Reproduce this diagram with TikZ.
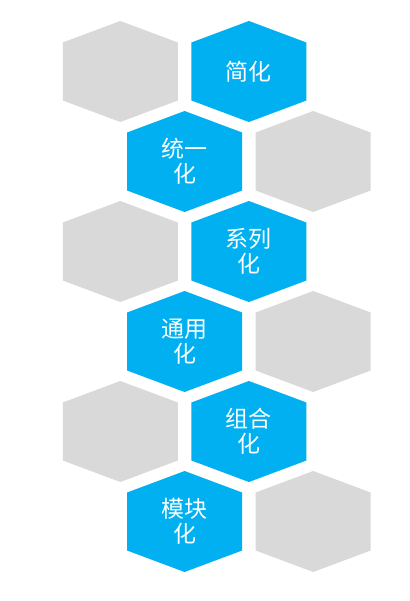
\documentclass[tikz,border=0pt]{standalone}
\usepackage{fontspec}
\newfontfamily\cjk{Noto Sans CJK SC}
\definecolor{hexblue}{HTML}{00B0F0}
\definecolor{hexgray}{HTML}{D9D9D9}
\tikzset{
  hexlabel/.style={text=white, align=center, inner sep=0pt,
    font=\cjk\fontsize{23pt}{25pt}\selectfont},
}
\newcommand{\hexat}[3]{% color, x, y
  \fill[#1] (#2,#3) ++(-57.5,-29) -- ++(57.5,-21.5) -- ++(57.5,21.5) -- ++(0,58) -- ++(-57.5,21.5) -- ++(-57.5,-21.5) -- cycle;}
\begin{document}
\begin{tikzpicture}[x=1pt,y=-1pt]
\useasboundingbox (0,0) rectangle (409,601);
\fill[white] (0,0) rectangle (409,601);
% row 1
\hexat{hexgray}{120.3}{71.5}
\hexat{hexblue}{248.9}{71.5}
\node[hexlabel] (h1) at (248.9,71.5) {简化};
% row 2
\hexat{hexblue}{184.6}{161.5}
\hexat{hexgray}{313.2}{161.5}
\node[hexlabel] (h2) at (184.6,161.5) {统一\\化};
% row 3
\hexat{hexgray}{120.3}{251.5}
\hexat{hexblue}{248.9}{251.5}
\node[hexlabel] (h3) at (248.9,251.5) {系列\\化};
% row 4
\hexat{hexblue}{184.6}{341.5}
\hexat{hexgray}{313.2}{341.5}
\node[hexlabel] (h4) at (184.6,341.5) {通用\\化};
% row 5
\hexat{hexgray}{120.3}{431.5}
\hexat{hexblue}{248.9}{431.5}
\node[hexlabel] (h5) at (248.9,431.5) {组合\\化};
% row 6
\hexat{hexblue}{184.6}{521.5}
\hexat{hexgray}{313.2}{521.5}
\node[hexlabel] (h6) at (184.6,521.5) {模块\\化};
\end{tikzpicture}
\end{document}
